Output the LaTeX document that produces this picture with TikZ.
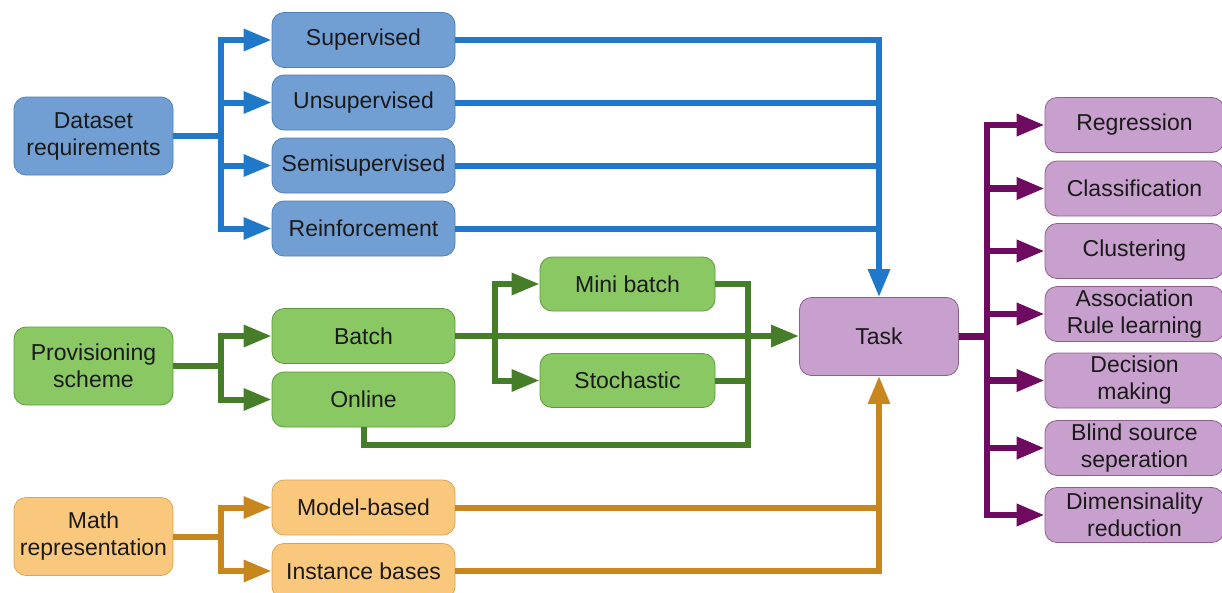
\documentclass[tikz,border=0pt]{standalone}
\usepackage{fontspec}
\setmainfont{Liberation Sans}
\usetikzlibrary{arrows.meta}
\definecolor{bfill}{HTML}{729FD3}
\definecolor{bdraw}{HTML}{4F7FB8}
\definecolor{bline}{HTML}{1F78C8}
\definecolor{gfill}{HTML}{8AC864}
\definecolor{gdraw}{HTML}{5F9A3F}
\definecolor{gline}{HTML}{467D28}
\definecolor{ofill}{HTML}{FAC87D}
\definecolor{odraw}{HTML}{D9A555}
\definecolor{oline}{HTML}{C8871E}
\definecolor{pfill}{HTML}{C8A0CD}
\definecolor{pdraw}{HTML}{8E5F8E}
\definecolor{pline}{HTML}{6E0A5F}
\definecolor{txt}{HTML}{1A1A1A}
\tikzset{
  box/.style={rectangle, rounded corners=12pt, inner sep=0pt, align=center,
    text=txt, font=\fontsize{23}{27}\selectfont, line width=0.8pt},
  leftbox/.style={box, minimum width=159pt, minimum height=78pt},
  midbox/.style={box, minimum width=183pt, minimum height=55pt},
  subbox/.style={box, minimum width=175pt, minimum height=54pt},
  rightbox/.style={box, minimum width=179pt, minimum height=55pt},
  bluebox/.style={fill=bfill, draw=bdraw},
  greenbox/.style={fill=gfill, draw=gdraw},
  orangebox/.style={fill=ofill, draw=odraw},
  purplebox/.style={fill=pfill, draw=pdraw},
  conn/.style={line width=6pt},
  tip/.style={-{Triangle[length=28pt,width=21pt]}},
}
\begin{document}
\begin{tikzpicture}[x=1pt,y=-1pt]
\useasboundingbox (0,0) rectangle (1222,592);
% blue
\node[leftbox,bluebox] (ds) at (93.5,136) {Dataset\\requirements};
\node[midbox,bluebox] (sup) at (363.5,40) {Supervised};
\node[midbox,bluebox] (uns) at (363.5,102.5) {Unsupervised};
\node[midbox,bluebox] (semi) at (363.5,165.5) {Semisupervised};
\node[midbox,bluebox] (rein) at (363.5,228.5) {Reinforcement};
% task
\node[box,purplebox,minimum width=159pt,minimum height=78pt] (task) at (879,336.5) {Task};
% green
\node[leftbox,greenbox] (ps) at (93.5,366) {Provisioning\\scheme};
\node[midbox,greenbox] (batch) at (363.5,336) {Batch};
\node[midbox,greenbox] (online) at (363.5,399.5) {Online};
\node[subbox,greenbox] (mini) at (627.5,284) {Mini batch};
\node[subbox,greenbox] (stoch) at (627.5,380.5) {Stochastic};
% orange
\node[leftbox,orangebox] (mr) at (93.5,536.5) {Math\\representation};
\node[midbox,orangebox] (mb) at (363.5,507.5) {Model-based};
\node[midbox,orangebox] (ib) at (363.5,571) {Instance bases};
% purple
\node[rightbox,purplebox] (reg) at (1134.5,125) {Regression};
\node[rightbox,purplebox] (cla) at (1134.5,188.5) {Classification};
\node[rightbox,purplebox] (clu) at (1134.5,251) {Clustering};
\node[rightbox,purplebox] (ass) at (1134.5,314) {Association\\Rule learning};
\node[rightbox,purplebox] (dec) at (1134.5,380.5) {Decision\\making};
\node[rightbox,purplebox] (bli) at (1134.5,448) {Blind source\\seperation};
\node[rightbox,purplebox] (dim) at (1134.5,515) {Dimensinality\\reduction};
% junctions
\coordinate (bj) at (221,136);
\coordinate (gj) at (221,366);
\coordinate (gb) at (495,336);
\coordinate (gc) at (748,445);
\coordinate (oj) at (221,536.5);
\coordinate (pj) at (987,336.5);
% blue connectors
\begin{scope}[conn, draw=bline, color=bline]
\draw (ds.east) -- (bj);
\draw[tip] (bj) |- (sup.west);
\draw[tip] (bj) |- (uns.west);
\draw[tip] (bj) |- (semi.west);
\draw[tip] (bj) |- (rein.west);
\draw[tip] (sup.east) -| (task.north);
\draw (uns.east) -- (uns.east -| task.north);
\draw (semi.east) -- (semi.east -| task.north);
\draw (rein.east) -- (rein.east -| task.north);
\end{scope}
% green connectors
\begin{scope}[conn, draw=gline, color=gline]
\draw (ps.east) -- (gj);
\draw[tip] (gj) |- (batch.west);
\draw[tip] (gj) |- (online.west);
\draw[tip] (gb) |- (mini.west);
\draw[tip] (gb) |- (stoch.west);
\draw (mini.east) -| (gc) -| (online.south);
\draw (stoch.east) -- (stoch.east -| gc);
\draw[tip] (batch.east) -- (batch.east -| task.west);
\end{scope}
% orange connectors
\begin{scope}[conn, draw=oline, color=oline]
\draw (mr.east) -- (oj);
\draw[tip] (oj) |- (mb.west);
\draw[tip] (oj) |- (ib.west);
\draw (mb.east) -- (mb.east -| task.south);
\draw[tip] (ib.east) -| (task.south);
\end{scope}
% purple connectors
\begin{scope}[conn, line width=6.5pt, draw=pline, color=pline]
\draw (task.east) -- (pj);
\draw[tip] (pj) |- (reg.west);
\draw[tip] (pj) |- (cla.west);
\draw[tip] (pj) |- (clu.west);
\draw[tip] (pj) |- (ass.west);
\draw[tip] (pj) |- (dec.west);
\draw[tip] (pj) |- (bli.west);
\draw[tip] (pj) |- (dim.west);
\end{scope}
\end{tikzpicture}
\end{document}
